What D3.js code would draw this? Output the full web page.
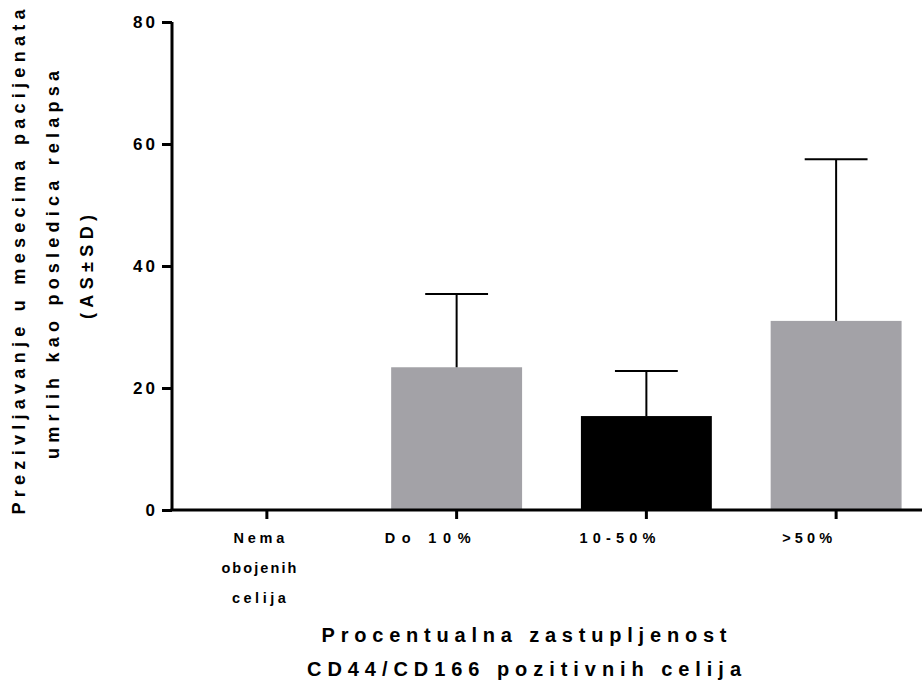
<!DOCTYPE html>
<html>
<head>
<meta charset="utf-8">
<script src="https://cdn.jsdelivr.net/npm/d3@7"></script>
<style>
  html, body { margin: 0; padding: 0; background: #fff; }
  text { font-family: "Liberation Sans", Arial, sans-serif; font-weight: bold; fill: #000; }
</style>
</head>
<body>
<svg id="chart" width="922" height="686"></svg>
<script>
// Survival (months) by share of CD44/CD166 positive cells, mean ± SD
const categories = ["Nema obojenih celija", "Do 10%", "10-50%", ">50%"];
const categoryLines = [["Nema", "obojenih", "celija"], ["Do 10%"], ["10-50%"], [">50%"]];
const means = [0, 23.4, 15.4, 31.0];
const sdUpper = [0, 35.4, 22.8, 57.5];
const barColors = ["#a3a2a7", "#a3a2a7", "#000000", "#a3a2a7"];
const yTicks = [0, 20, 40, 60, 80];
const yTitleLines = ["Prezivljavanje u mesecima pacijenata", "umrlih kao posledica relapsa", "(AS±SD)"];
const xTitleLines = ["Procentualna zastupljenost", "CD44/CD166 pozitivnih celija"];

// Typesetting: spread widths for the letter-spaced labels
const spread = {
  "Nema": 51, "obojenih": 75, "celija": 54, "Do 10%": 86, "10-50%": 76, ">50%": 50,
  "Procentualna zastupljenost": 405, "CD44/CD166 pozitivnih celija": 434,
  "Prezivljavanje u mesecima pacijenata": 505, "umrlih kao posledica relapsa": 388, "(AS±SD)": 104
};

const svg = d3.select("#chart");
const plotLeft = 172, plotTop = 22, plotBottom = 510, plotRight = 931;

const x = d3.scaleBand()
  .domain(categories)
  .range([plotLeft, plotRight])
  .paddingInner(0.31)
  .paddingOuter(0.155);

const y = d3.scaleLinear().domain([0, 80]).range([plotBottom, plotTop]);

// Bars
svg.append("g").selectAll("rect")
  .data(categories)
  .join("rect")
  .attr("x", d => x(d))
  .attr("width", x.bandwidth())
  .attr("y", (d, i) => y(means[i]))
  .attr("height", (d, i) => y(0) - y(means[i]))
  .attr("fill", (d, i) => barColors[i]);

// Upper SD whiskers
const capHalf = x.bandwidth() * 0.24;
const err = svg.append("g").attr("stroke", "#000").attr("stroke-width", 2);
categories.forEach((c, i) => {
  if (sdUpper[i] <= means[i]) return;
  const cx = x(c) + x.bandwidth() / 2;
  err.append("line").attr("x1", cx).attr("x2", cx)
    .attr("y1", y(means[i])).attr("y2", y(sdUpper[i]));
  err.append("line").attr("x1", cx - capHalf).attr("x2", cx + capHalf)
    .attr("y1", y(sdUpper[i])).attr("y2", y(sdUpper[i]));
});

// Y axis
const yAxis = svg.append("g")
  .attr("transform", `translate(${plotLeft},0)`)
  .call(d3.axisLeft(y).tickValues(yTicks).tickSize(10).tickPadding(4));
yAxis.select(".domain").attr("stroke-width", 3).attr("d", `M0,${y(80)}V${y(0)}`);
yAxis.selectAll(".tick line").attr("stroke-width", 3);
yAxis.selectAll(".tick text")
  .style("font-size", "17px").style("font-weight", "bold")
  .style("font-family", "'Liberation Sans', Arial, sans-serif")
  .attr("letter-spacing", "3px").attr("fill", "#000");

// X axis
const xAxis = svg.append("g")
  .attr("transform", `translate(0,${plotBottom})`)
  .call(d3.axisBottom(x).tickSize(9).tickFormat(""));
xAxis.select(".domain").attr("stroke-width", 3).attr("d", `M${plotLeft - 1.5},0H${plotRight}`);
xAxis.selectAll(".tick line").attr("stroke-width", 3);

function spaced(sel, str) {
  sel.text(str)
    .attr("textLength", spread[str])
    .attr("lengthAdjust", "spacing");
  return sel;
}

// Category labels (single-line labels sit a little left of their tick)
categories.forEach((c, i) => {
  const lines = categoryLines[i];
  const cx = x(c) + x.bandwidth() / 2 + (lines.length > 1 ? -8 : -29);
  lines.forEach((line, j) => {
    const t = svg.append("text")
      .attr("x", cx)
      .attr("y", plotBottom + 33 + j * 30)
      .attr("text-anchor", "middle")
      .style("font-size", "14.5px");
    spaced(t, line);
  });
});

// X title
xTitleLines.forEach((line, j) => {
  const t = svg.append("text")
    .attr("x", 524)
    .attr("y", 642 + j * 34)
    .attr("text-anchor", "middle")
    .style("font-size", "20px");
  spaced(t, line);
});

// Y title
const yCenters = [262, 265, 267];
yTitleLines.forEach((line, j) => {
  const t = svg.append("text")
    .attr("transform", `translate(${25 + j * 34},${yCenters[j]}) rotate(-90)`)
    .attr("text-anchor", "middle")
    .style("font-size", "18px");
  spaced(t, line);
});
</script>
</body>
</html>
